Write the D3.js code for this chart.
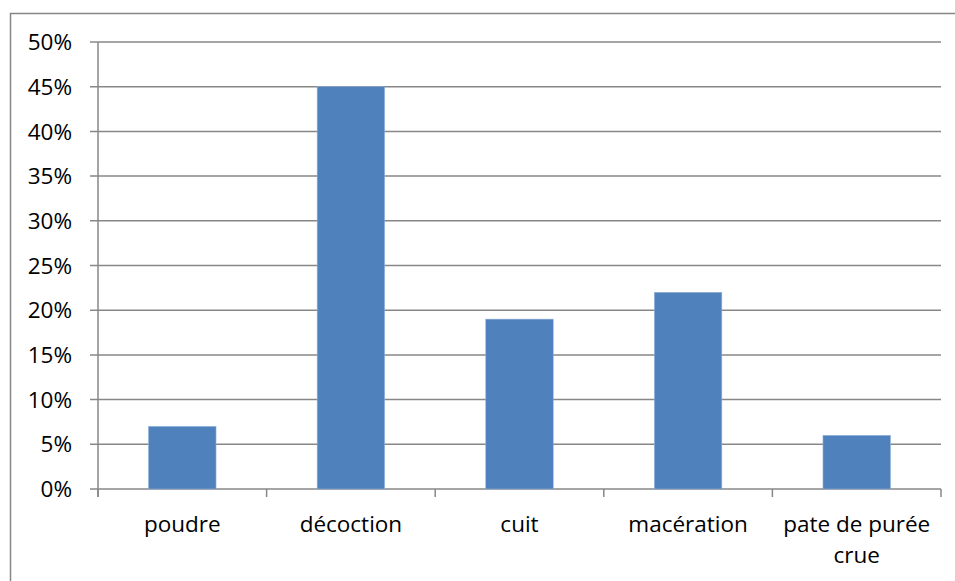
<!DOCTYPE html>
<html>
<head>
<meta charset="utf-8">
<script src="https://cdn.jsdelivr.net/npm/d3@7"></script>
<style>
  body { margin: 0; background: #fff; }
  svg text { font-family: "Open Sans", sans-serif; font-size: 22.5px; fill: #000; }
</style>
</head>
<body>
<div id="chart"></div>
<script>
// catégories et valeurs (en %)
const categories = ['poudre', 'décoction', 'cuit', 'macération', 'pate de purée crue'];
const values = [7, 45, 19, 22, 6];
const yTicks = [0, 5, 10, 15, 20, 25, 30, 35, 40, 45, 50];

const width = 955, height = 581;
const margin = { top: 42, left: 98, right: 14, bottom: 92 };

const svg = d3.select('#chart').append('svg')
    .attr('width', width)
    .attr('height', height);

// cadre extérieur (sort de l'image à droite et en bas)
svg.append('rect')
    .attr('x', 10.5).attr('y', 13.5)
    .attr('width', 960).attr('height', 600)
    .attr('fill', 'none')
    .attr('stroke', '#878787')
    .attr('stroke-width', 1.5);

const x = d3.scaleBand()
    .domain(categories)
    .range([margin.left, width - margin.right])
    .paddingInner(0.6)
    .paddingOuter(0.3);

const xBand = d3.scaleBand()
    .domain(categories)
    .range([margin.left, width - margin.right]);

const y = d3.scaleLinear()
    .domain([0, 50])
    .range([height - margin.bottom, margin.top]);

// grille horizontale
svg.append('g')
    .selectAll('line')
    .data(yTicks)
    .enter()
    .append('line')
    .attr('x1', margin.left - 8)
    .attr('x2', width - margin.right)
    .attr('y1', d => y(d))
    .attr('y2', d => y(d))
    .attr('stroke', '#878787')
    .attr('stroke-width', 1.5);

// axe vertical
svg.append('line')
    .attr('x1', margin.left).attr('x2', margin.left)
    .attr('y1', y(50)).attr('y2', y(0) + 8)
    .attr('stroke', '#878787')
    .attr('stroke-width', 1.5);

// libellés de l'axe Y
svg.append('g')
    .selectAll('text')
    .data(yTicks)
    .enter()
    .append('text')
    .attr('x', margin.left - 26)
    .attr('y', d => y(d))
    .attr('dy', '0.36em')
    .attr('text-anchor', 'end')
    .text(d => d + '%');

// graduations de l'axe X
const xTickPos = categories.map(c => xBand(c)).concat([xBand(categories[categories.length - 1]) + xBand.bandwidth()]);
svg.append('g')
    .selectAll('line')
    .data(xTickPos)
    .enter()
    .append('line')
    .attr('x1', d => d).attr('x2', d => d)
    .attr('y1', y(0)).attr('y2', y(0) + 8)
    .attr('stroke', '#878787')
    .attr('stroke-width', 1.5);

// barres
svg.append('g')
    .selectAll('rect')
    .data(values)
    .enter()
    .append('rect')
    .attr('x', (d, i) => x(categories[i]))
    .attr('y', d => y(d))
    .attr('width', x.bandwidth())
    .attr('height', d => y(0) - y(d))
    .attr('fill', '#4f81bd')
    .attr('stroke', '#8fb0d8')
    .attr('stroke-width', 0.6);

// libellés de l'axe X (retour à la ligne)
const lines = {
    'pate de purée crue': ['pate de purée', 'crue']
};
const labels = svg.append('g')
    .selectAll('text')
    .data(categories)
    .enter()
    .append('text')
    .attr('text-anchor', 'middle')
    .attr('x', d => xBand(d) + xBand.bandwidth() / 2)
    .attr('y', 532);

labels.each(function(d) {
    const parts = lines[d] || [d];
    const t = d3.select(this);
    parts.forEach((p, i) => {
        t.append('tspan')
            .attr('x', xBand(d) + xBand.bandwidth() / 2)
            .attr('dy', i === 0 ? 0 : 31)
            .text(p);
    });
});
</script>
</body>
</html>
